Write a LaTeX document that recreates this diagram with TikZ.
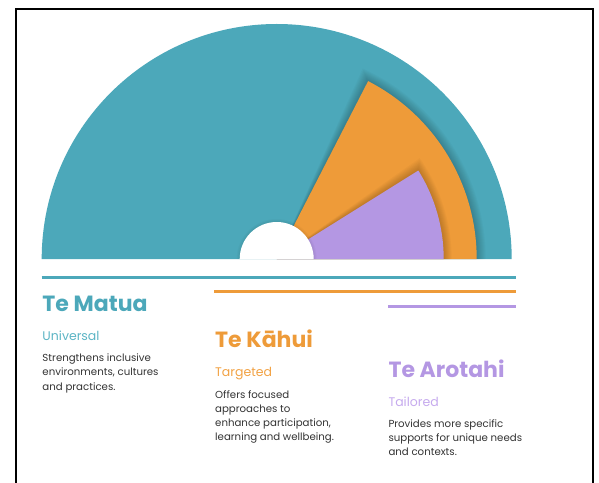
\documentclass[tikz,border=0pt]{standalone}
\usepackage{fontspec}
\setmainfont{Poppins}
\usetikzlibrary{positioning}
\definecolor{matua}{HTML}{4CA8BA}
\definecolor{kahui}{HTML}{EE9B39}
\definecolor{arotahi}{HTML}{B497E3}
\definecolor{matualight}{HTML}{5CB5C5}
\definecolor{kahuilight}{HTML}{F2A244}
\definecolor{arotahilight}{HTML}{C6AAEE}
\definecolor{bodytext}{HTML}{333333}
\tikzset{
  shadowfill/.style={fill=black, opacity=0.022},
  heading/.style={anchor=base west, inner sep=0pt, font=\fontsize{22}{22}\selectfont\bfseries},
  subhead/.style={anchor=base west, inner sep=0pt, font=\fontsize{12.5}{13}\selectfont},
  body/.style={anchor=base west, inner sep=0pt, align=left, text=bodytext,
    font=\fontsize{10.2}{14.2}\selectfont},
  rule/.style={line width=3pt}
}

\begin{document}
\begin{tikzpicture}[x=1pt,y=1pt]
\useasboundingbox (-276.7,-223) rectangle (322.3,259);
\fill[white] (-276.7,-223) rectangle (322.3,259);
\draw[line width=2.2pt] (-260.7,-224) -- (-260.7,250) -- (316.3,250) -- (316.3,-224);

% semicircle
\fill[matua] (235,0) arc (0:180:235) -- cycle;
\foreach \k in {1,...,9}
  \fill[shadowfill] (0,0) -- (0:200+\k) arc (0:63+0.3*\k:200+\k) -- cycle;
\fill[kahui] (0,0) -- (200,0) arc (0:62.8:200) -- cycle;
\foreach \k in {1,...,8}
  \fill[shadowfill] (0,0) -- (0:167+\k) arc (0:32+0.4*\k:167+\k) -- cycle;
\fill[arotahi] (0,0) -- (167,0) arc (0:32:167) -- cycle;
\foreach \k in {1,...,3}
  \fill[shadowfill] (37+\k,0) arc (0:180:37+\k) -- cycle;
\fill[white] (37,0) arc (0:180:37) -- cycle;

% rules
\coordinate (matuaL) at (-235,-18.3);
\coordinate (matuaR) at (239,-18.3);
\coordinate (kahuiL) at (-62.4,-32.3);
\coordinate (kahuiR) at (239,-32.3);
\coordinate (arotahiL) at (111.6,-47.3);
\coordinate (arotahiR) at (239,-47.3);
\draw[rule, matua] (matuaL) -- (matuaR);
\draw[rule, kahui] (kahuiL) -- (kahuiR);
\draw[rule, arotahi] (arotahiL) -- (arotahiR);

% Te Matua
\node[heading, text=matua] (matua) at (-234.4,-52.7) {Te Matua};
\node[subhead, text=matualight] (matuasub) at (-234.4,-81) {Universal};
\node[body] (matuatext) at (-234.4,-131) {Strengthens inclusive\\environments, cultures\\and practices.};

% Te Kahui
\node[heading, text=kahui] (kahui) at (-61.7,-88.7) {Te Kāhui};
\node[subhead, text=kahuilight] (kahuisub) at (-61.7,-117) {Targeted};
\node[body] (kahuitext) at (-61.7,-181.9) {Offers focused\\approaches to\\enhance participation,\\learning and wellbeing.};

% Te Arotahi
\node[heading, text=arotahi] (arotahi) at (111.6,-118.3) {Te Arotahi};
\node[subhead, text=arotahilight] (arotahisub) at (111.6,-147) {Tailored};
\node[body] (arotahitext) at (111.6,-196.7) {Provides more specific\\supports for unique needs\\and contexts.};
\end{tikzpicture}
\end{document}
